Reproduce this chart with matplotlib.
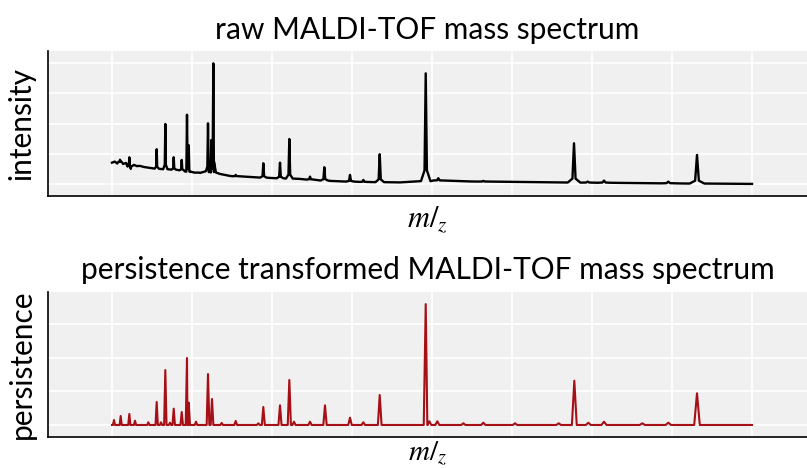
import matplotlib
matplotlib.use("Agg")
import matplotlib.pyplot as plt
import numpy as np

plt.rcParams['mathtext.fontset'] = 'stix'

# raw spectrum: baseline samples and peak tops (m/z, intensity)
base_mz = [2000, 2070, 2130, 2200, 2280, 2350, 2400, 2470, 2550, 2620, 2700, 2800, 2950,
           3200, 3450, 3700, 3950, 4200, 4350, 4700, 4950, 5450, 5950, 6700, 7450, 8200,
           9200, 10200, 10950, 12200, 13200, 14700, 16200, 18000]
base_int = [3520, 3700, 3380, 3650, 3300, 3480, 3200, 2500, 3150, 2950, 2980, 2800, 2650,
            2480, 2400, 2310, 1980, 1820, 2150, 1650, 1320, 1160, 990, 830, 500, 330,
            250, 580, 410, 330, 250, 170, 80, 0]
raw_mz = [2200, 2433, 3117, 3333, 3543, 3743, 3875, 3918, 4117, 4400, 4483, 4533, 5092, 5783,
          6200, 6433, 6950, 7308, 7950, 8283, 8693, 9843, 10158, 11283, 13550, 13892,
          14300, 15908, 16625]
raw_int = [4000, 4400, 5740, 9920, 4410, 3970, 11450, 6400, 1870, 10030, 7270, 19950, 1490, 3420,
           3520, 7440, 1210, 2760, 1490, 660, 4910, 18300, 940, 500, 6730, 380,
           550, 380, 4790]

# persistence transformed spectrum (m/z, persistence)
pers_mz = [2050, 2217, 2433, 2575, 2908, 3117, 3225, 3333, 3450, 3543, 3743, 3875, 3918,
           4100, 4400, 4500, 4742, 5092, 5658, 5783, 6200, 6433, 6550, 6950, 7325, 7950,
           8283, 8693, 9843, 9933, 10133, 10783, 11283, 12075, 13167, 13558, 13908, 14300,
           15258, 15908, 16625]
pers_val = [740, 1340, 1640, 640, 400, 3420, 400, 8180, 340, 2430, 1930, 9970, 3320,
            490, 7590, 3870, 300, 600, 250, 2680, 2930, 6700, 490, 490, 2930, 1090,
            400, 4460, 18000, 550, 550, 250, 340, 250, 250, 6590, 340, 490,
            250, 340, 4720]

# build line vertices
pts = list(zip(base_mz, base_int))
for m, top in zip(raw_mz, raw_int):
    b = np.interp(m, base_mz, base_int)
    w = 0.01 * m + 20
    h = top - b
    pts += [(m - w, b), (m - w / 4, b + 0.1 * h), (m, top), (m + w / 4, b + 0.1 * h), (m + w, b)]
pts.sort()
rx = [p[0] for p in pts]
ry = [p[1] for p in pts]

ppts = [(2000, 0), (18000, 0)]
for m, v in zip(pers_mz, pers_val):
    w = 0.003 * m + 20
    ppts += [(m - w, 0), (m, v), (m + w, 0)]
ppts.sort()
px = [p[0] for p in ppts]
py = [p[1] for p in ppts]

fig = plt.figure(figsize=(8.07, 4.68), dpi=100)
ax1 = fig.add_axes([48 / 807, 1 - 196 / 468, 759 / 807, 145 / 468])
ax2 = fig.add_axes([48 / 807, 1 - 437 / 468, 759 / 807, 145 / 468])

for ax in (ax1, ax2):
    ax.set_facecolor('#f0f0f0')
    ax.set_xticks(np.arange(2000, 19000, 2000))
    ax.set_yticks(np.arange(0, 21000, 5000))
    ax.grid(True, color='white', linewidth=1.2)
    ax.set_axisbelow(True)
    ax.tick_params(length=0, labelbottom=False, labelleft=False)
    for s in ('top', 'right'):
        ax.spines[s].set_visible(False)
    for s in ('left', 'bottom'):
        ax.spines[s].set_linewidth(1.2)
    ax.set_xlim(400, 19375)

ax1.plot(rx, ry, color='black', linewidth=1.7)
ax1.set_ylim(-2000, 22000)
ax1.set_title('raw MALDI-TOF mass spectrum', fontsize=21.5, family='Lato', pad=9)
ax1.set_ylabel('intensity', fontsize=21.5, family='Lato', labelpad=9)
ax1.set_xlabel(r'$m/_{z}$', fontsize=22, labelpad=6)

ax2.plot(px, py, color='#a50f15', linewidth=1.5)
ax2.set_ylim(-1790, 19800)
ax2.set_title('persistence transformed MALDI-TOF mass spectrum', fontsize=21.5, family='Lato', pad=9)
ax2.set_ylabel('persistence', fontsize=21.5, family='Lato', labelpad=9)
ax2.set_xlabel(r'$m/_{z}$', fontsize=21, labelpad=2)

plt.savefig('out.png', dpi=100)
